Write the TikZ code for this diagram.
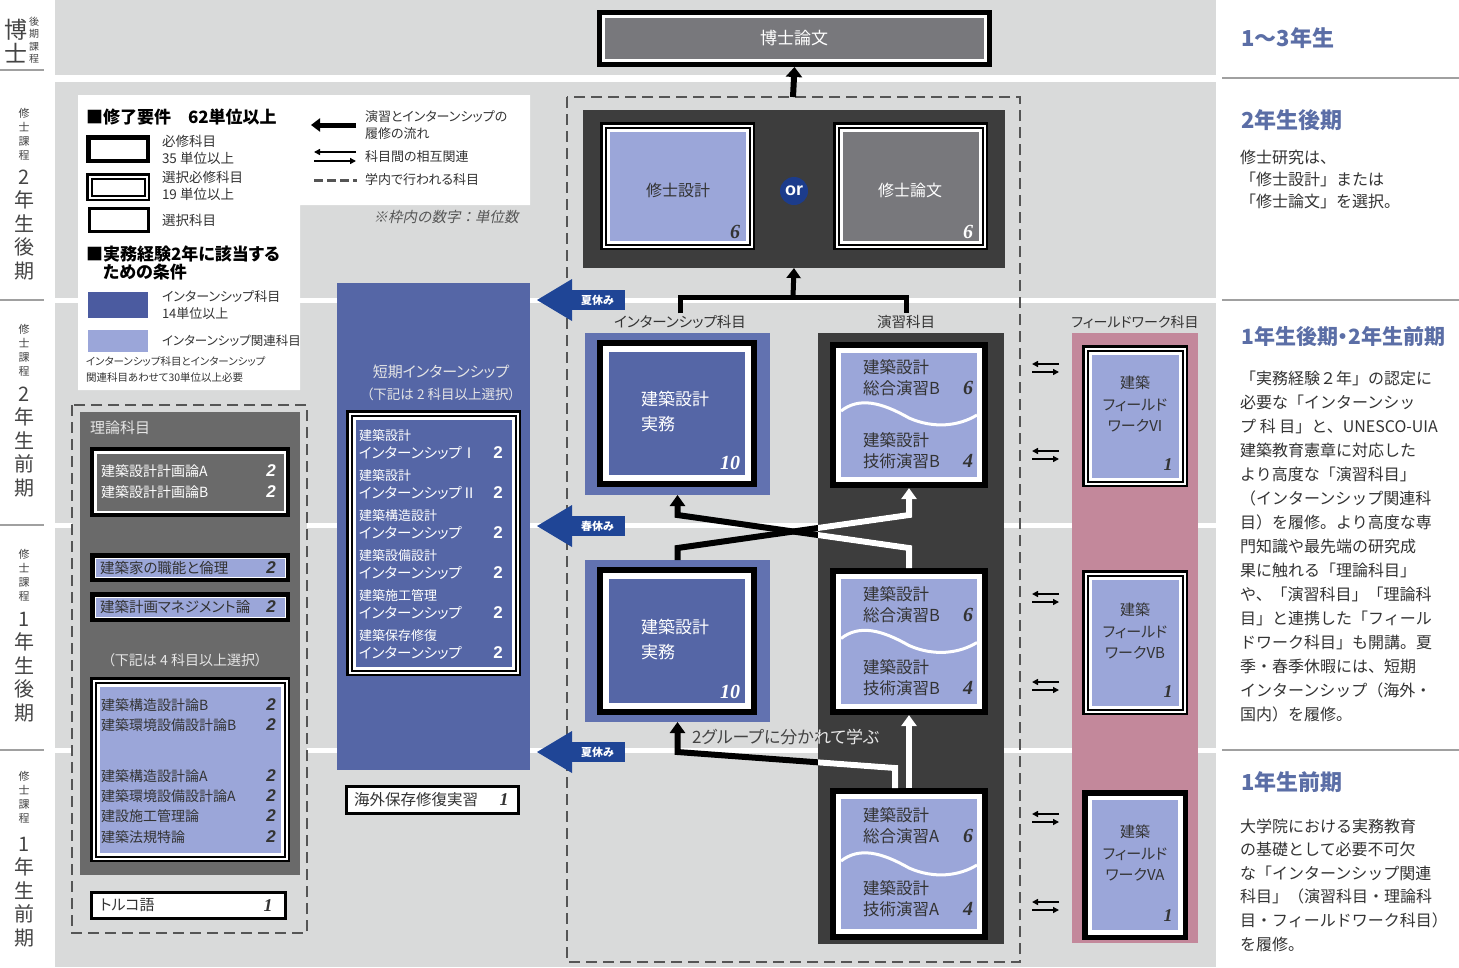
\documentclass[tikz,border=0pt]{standalone}
\usepackage{fontspec}
\usepackage{graphicx}
\setmainfont{Noto Sans CJK JP}[RawFeature={+palt}]
\newfontfamily\jpfull{Noto Sans CJK JP}
\newfontfamily\jpslant{Noto Sans CJK JP}[FakeSlant=0.2]
\newfontfamily\numserif{Liberation Serif}
\newfontfamily\numsans{Liberation Sans}
\usetikzlibrary{arrows.meta}

\newcommand\fsz[2]{\fontsize{#1}{#2}\selectfont}
\newcommand\ppin[2]{\fill[#2] ([shift={(#1,#1)}]path picture bounding box.south west) rectangle ([shift={(-#1,-#1)}]path picture bounding box.north east);}

\definecolor{bg}{HTML}{D9DADA}
\definecolor{dark}{HTML}{3D3D3D}
\definecolor{midgray}{HTML}{6A6A6A}
\definecolor{boxgray}{HTML}{78787C}
\definecolor{iblue}{HTML}{5566A6}
\definecolor{iblue2}{HTML}{6272B0}
\definecolor{legblue}{HTML}{4B5BA0}
\definecolor{lav}{HTML}{9BA6D9}
\definecolor{pink}{HTML}{C3889B}
\definecolor{orblue}{HTML}{1C3C8C}
\definecolor{tagblue}{HTML}{1F4596}
\definecolor{headblue}{HTML}{5B6EA6}
\definecolor{txt}{HTML}{333333}
\definecolor{dashc}{HTML}{555555}
\definecolor{lgray}{HTML}{E6E6E6}
\definecolor{sepc}{HTML}{A0A0A0}
\definecolor{lefttxt}{HTML}{444444}

\tikzset{
  reqbox/.style n args={3}{rectangle, inner sep=0pt, outer sep=0pt, fill=black,
    path picture={\ppin{0pt}{black}\ppin{#2}{white}\ppin{#3}{#1}}},
  dblbox/.style={rectangle, inner sep=0pt, outer sep=0pt, fill=black,
    path picture={\ppin{0pt}{black}\ppin{2.5pt}{white}\ppin{4.5pt}{black}\ppin{6.5pt}{white}\ppin{9.5pt}{#1}}},
  elebox/.style={rectangle, inner sep=0pt, outer sep=0pt, fill=black,
    path picture={\ppin{0pt}{black}\ppin{3pt}{white}}},
  panel/.style={rectangle, inner sep=0pt, outer sep=0pt, fill=#1},
  lbl/.style={inner sep=0pt, outer sep=0pt, text=txt},
  num/.style={inner sep=0pt, outer sep=0pt, font=\numserif\bfseries\itshape\fsz{20}{20}},
  nums/.style={inner sep=0pt, outer sep=0pt, font=\numsans\bfseries\itshape\fsz{17}{17}},
  flow/.style={line width=5pt, line join=miter, -{Triangle[length=10pt,width=14pt]}},
  xflow/.style={line width=6pt, line join=miter, -{Triangle[length=11pt,width=15pt]}},
  flowline/.style={line width=5pt},
  dashbox/.style={draw=dashc, line width=2.5pt, dash pattern=on 11pt off 6pt},
  dblarr/.style={line width=1.8pt, -{Triangle[length=6pt,width=6pt]}},
  tag/.style={fill=tagblue, text=white, inner sep=0pt, minimum width=55pt, minimum height=20pt, font=\bfseries\fsz{11}{11}},
  vsmall/.style={inner sep=0pt, align=center, text=lefttxt, font=\fsz{11}{14}},
  vbig/.style={inner sep=0pt, align=center, text=lefttxt, font=\fsz{20}{23.5}},
  rhead/.style={inner sep=0pt, anchor=west, text=headblue, font=\jpfull\bfseries\fsz{22}{22}},
  rbody/.style={inner sep=0pt, anchor=west, text=txt, font=\jpfull\fsz{16}{16}},
}

\begin{document}
\begin{tikzpicture}[x=1pt,y=-1pt]
\useasboundingbox (0,0) rectangle (1459,967);
\fill[white] (0,0) rectangle (1459,967);
\fill[bg] (55,0) rectangle (1216,967);
\foreach \a/\b in {75/82, 297.5/302.5, 522.5/527.5, 747.5/752.5}
  \fill[white] (55,\a) rectangle (1216,\b);

% ---------- left column ----------
\foreach \y in {70,300,525,750} \draw[sepc, line width=1.5pt] (0,\y) -- (44,\y);
\node[inner sep=0pt, align=center, text=lefttxt, font=\fsz{23}{24}] (l1a) at (16,41) {博\\士};
\node[inner sep=0pt, align=center, text=lefttxt, font=\fsz{10}{12.5}] (l1b) at (34,40) {後\\期\\課\\程};
\node[vsmall] (l2a) at (24,134) {修\\士\\課\\程};
\node[vbig] (l2b) at (24,225) {2\\年\\生\\後\\期};
\node[vsmall] (l3a) at (24,350) {修\\士\\課\\程};
\node[vbig] (l3b) at (24,442) {2\\年\\生\\前\\期};
\node[vsmall] (l4a) at (24,575) {修\\士\\課\\程};
\node[vbig] (l4b) at (24,667) {1\\年\\生\\後\\期};
\node[vsmall] (l5a) at (24,797) {修\\士\\課\\程};
\node[vbig] (l5b) at (24,892) {1\\年\\生\\前\\期};

% ---------- right column ----------
\foreach \y in {78,300,750} \draw[sepc, line width=1.5pt] (1222,\y) -- (1459,\y);
\node[rhead] (rh1) at (1241,38) {1～3年生};
\node[rhead] (rh2) at (1241,120) {2年生後期};
\node[rbody] (rt1) at (1240,157) {修士研究は、};
\node[rbody] (rt2) at (1240,179) {「修士設計」または};
\node[rbody] (rt3) at (1240,201) {「修士論文」を選択。};
\node[rhead, font=\bfseries\fsz{21}{21}] (rh3) at (1241,337) {1年生後期・2年生前期};
\foreach \t [count=\i from 0] in {{「実務経験２年」の認定に},{必要な「インターンシッ},{プ 科 目」と、UNESCO-UIA},{建築教育憲章に対応した},{より高度な「演習科目」},{（インターンシップ関連科},{目）を履修。より高度な専},{門知識や最先端の研究成},{果に触れる「理論科目」},{や、「演習科目」「理論科},{目」と連携した「フィール},{ドワーク科目」も開講。夏},{季・春季休暇には、短期},{インターンシップ（海外・},{国内）を履修。}}
  \node[rbody] (rm\i) at (1240,{378+24.05*\i}) {\t};
\node[rhead] (rh4) at (1241,782) {1年生前期};
\foreach \t [count=\i from 0] in {{大学院における実務教育},{の基礎として必要不可欠},{な「インターンシップ関連},{科目」（演習科目・理論科},{目・フィールドワーク科目）},{を履修。}}
  \node[rbody] (rb\i) at (1240,{826+23.6*\i}) {\t};

% ---------- legend ----------
\fill[white] (78,95) -- (530,95) -- (530,205) -- (300,205) -- (300,390) -- (78,390) -- cycle;
\node[lbl, anchor=west, text=black, font=\bfseries\fsz{17}{17}] (lgh1) at (86,117) {■修了要件　62単位以上};
\node[reqbox={white}{4.5pt}{4.5pt}, minimum width=64pt, minimum height=28pt] (lg1) at (118,149) {};
\node[lbl, anchor=west, font=\fsz{13.5}{16.5}, align=left] (lg1t) at (162,150) {必修科目\\35 単位以上};
\node[dblbox=white, minimum width=64pt, minimum height=28pt] (lg2) at (118,187) {};
\node[lbl, anchor=west, font=\fsz{13.5}{16.5}, align=left] (lg2t) at (162,186) {選択必修科目\\19 単位以上};
\node[elebox, minimum width=62pt, minimum height=26pt] (lg3) at (119,220) {};
\node[lbl, anchor=west, font=\fsz{13.5}{13.5}] (lg3t) at (162,220) {選択科目};
\node[lbl, anchor=west, text=black, font=\bfseries\fsz{17}{18}, align=left] (lgh2) at (86,263) {■実務経験2年に該当する\\\hspace*{17pt}ための条件};
\node[panel=legblue, minimum width=60pt, minimum height=26pt] (lg4) at (118,305) {};
\node[lbl, anchor=west, font=\fsz{13}{16.5}, align=left] (lg4t) at (162,305) {インターンシップ科目\\14単位以上};
\node[panel=lav, minimum width=60pt, minimum height=22pt] (lg5) at (118,341) {};
\node[lbl, anchor=west, font=\fsz{12.5}{12.5}] (lg5t) at (162,341) {インターンシップ関連科目};
\node[lbl, anchor=west, font=\fsz{10.5}{16}, align=left] (lg6t) at (86,370) {インターンシップ科目とインターンシップ\\関連科目あわせて30単位以上必要};
% legend, right part
\coordinate (la1) at (356,125); \coordinate (la2) at (311,125);
\draw[line width=5pt, -{Triangle[length=9pt,width=13pt]}] (la1) -- (la2);
\coordinate (lb1) at (356,152); \coordinate (lb2) at (314,152);
\coordinate (lb3) at (314,161); \coordinate (lb4) at (356,161);
\draw[dblarr] (lb1) -- (lb2);
\draw[dblarr] (lb3) -- (lb4);
\coordinate (lc1) at (314,180); \coordinate (lc2) at (357,180);
\draw[line width=3pt, dash pattern=on 9pt off 4pt, dashc] (lc1) -- (lc2);
\node[lbl, anchor=west, font=\fsz{13}{16.5}, align=left] (lat) at (365,125) {演習とインターンシップの\\履修の流れ};
\node[lbl, anchor=west, font=\fsz{13}{13}] (lbt) at (365,157) {科目間の相互関連};
\node[lbl, anchor=west, font=\fsz{13}{13}] (lct) at (365,180) {学内で行われる科目};
\node[lbl, text=dashc, font=\jpslant\fsz{14.5}{14.5}] (unit) at (446,217) {※枠内の数字：単位数};

% ---------- theory column ----------
\fill[bg] (72,405) rectangle (307,933);
\node[panel=midgray, minimum width=220pt, minimum height=463pt] (thp) at (190,643.5) {};
\draw[dashbox] (72,405) rectangle (307,933);
\node[lbl, anchor=west, text=lgray, font=\fsz{15}{15}] (tht) at (90,428) {理論科目};
\node[reqbox={midgray}{4pt}{6.5pt}, minimum width=200pt, minimum height=70pt] (th1) at (190,482) {};
\node[lbl, anchor=west, text=white, font=\fsz{14}{14}] (th1a) at (101,471) {建築設計計画論A};
\node[lbl, anchor=west, text=white, font=\fsz{14}{14}] (th1b) at (101,492) {建築設計計画論B};
\node[nums, text=white] (th1an) at (271,471) {2};
\node[nums, text=white] (th1bn) at (271,492) {2};
\node[reqbox={lav}{4.5pt}{5.5pt}, minimum width=200pt, minimum height=29pt] (th2) at (190,567.5) {};
\node[lbl, anchor=west, font=\fsz{14.5}{14.5}] (th2t) at (100,567.5) {建築家の職能と倫理};
\node[nums, text=txt] (th2n) at (271,567.5) {2};
\node[reqbox={lav}{4.5pt}{5.5pt}, minimum width=200pt, minimum height=30pt] (th3) at (190,607) {};
\node[lbl, anchor=west, font=\fsz{14.5}{14.5}] (th3t) at (100,607) {建築計画マネジメント論};
\node[nums, text=txt] (th3n) at (271,607) {2};
\node[lbl, text=lgray, font=\fsz{14}{14}] (th4h) at (185,660) {（下記は 4 科目以上選択）};
\node[dblbox=lav, minimum width=200pt, minimum height=185pt] (th4) at (190,769.5) {};
\foreach \t/\y [count=\i] in {建築構造設計論B/705, 建築環境設備設計論B/725, 建築構造設計論A/776, 建築環境設備設計論A/796, 建設施工管理論/816, 建築法規特論/837}{
  \node[lbl, anchor=west, font=\fsz{14}{14}] (th4t\i) at (101,\y) {\t};
  \node[nums, text=txt] (th4n\i) at (271,\y) {2};
}
\node[elebox, minimum width=197pt, minimum height=29pt] (tr) at (188.5,905.5) {};
\node[lbl, anchor=west, font=\fsz{15}{15}] (trt) at (100,905.5) {トルコ語};
\node[num, text=txt, font=\numserif\bfseries\itshape\fsz{18}{18}] (trn) at (268,905.5) {1};

% ---------- short internship ----------
\node[panel=iblue, minimum width=193pt, minimum height=487pt] (sip) at (433.5,526.5) {};
\node[lbl, text=lgray, font=\fsz{15}{15}] (sih1) at (441,372) {短期インターンシップ};
\node[lbl, text=lgray, font=\fsz{13.5}{13.5}] (sih2) at (441,394) {（下記は 2 科目以上選択）};
\node[dblbox=iblue, minimum width=175pt, minimum height=266pt] (sil) at (433.5,543) {};
\foreach \a/\b [count=\i from 0] in {建築設計/インターンシップⅠ, 建築設計/インターンシップⅡ, 建築構造設計/インターンシップ, 建築設備設計/インターンシップ, 建築施工管理/インターンシップ, 建築保存修復/インターンシップ}{
  \node[lbl, anchor=west, text=white, font=\fsz{13}{13}] (sia\i) at (359,{436+40*\i}) {\a};
  \node[lbl, anchor=west, text=white, font=\fsz{14.5}{14.5}] (sib\i) at (359,{453+40*\i}) {\b};
  \node[nums, text=white, font=\numsans\bfseries\fsz{17}{17}] (sin\i) at (498,{453+40*\i}) {2};
}
\node[elebox, minimum width=175pt, minimum height=30pt] (ov) at (432.5,800) {};
\node[lbl, anchor=west, font=\fsz{15.5}{15.5}] (ovt) at (354,800) {海外保存修復実習};
\node[num, text=txt, font=\numserif\bfseries\itshape\fsz{18}{18}] (ovn) at (504,800) {1};

% ---------- main dashed area ----------
\draw[dashbox] (567,97) rectangle (1020,962);
\coordinate (dtop) at (793,97);

% doctor thesis
\node[reqbox={boxgray}{5pt}{8pt}, minimum width=395pt, minimum height=57pt] (doct) at (794.5,38.5) {};
\node[lbl, text=white, font=\fsz{17}{17}] (doctt) at (794,38) {博士論文};
\draw[flow, line width=6pt, -{Triangle[length=10pt,width=16pt]}] (dtop) -- (doct.south);

% master panel
\node[panel=dark, minimum width=422pt, minimum height=158pt] (mpanel) at (794,189) {};
\node[dblbox=lav, minimum width=155pt, minimum height=128pt] (ms1) at (677.5,186) {};
\node[lbl, text=txt, font=\fsz{16}{16}] (ms1t) at (678,190) {修士設計};
\node[num, text=txt] (ms1n) at (735,232) {6};
\node[dblbox=boxgray, minimum width=155pt, minimum height=128pt] (ms2) at (910.5,186) {};
\node[lbl, text=white, font=\fsz{16}{16}] (ms2t) at (910,190) {修士論文};
\node[num, text=white] (ms2n) at (968,232) {6};
\node[circle, fill=orblue, minimum size=28pt, inner sep=0pt, text=white, font=\numsans\bfseries\fsz{18}{18}] (or) at (794,191) {or};

% bracket
\node[lbl, font=\fsz{14.5}{14.5}] (lblIn) at (680,322) {インターンシップ科目};
\node[lbl, font=\fsz{14.5}{14.5}] (lblEx) at (906,322) {演習科目};
\coordinate (brM) at (793,297);
\draw[flowline] ([yshift=2pt]lblIn.north) |- (brM) -| ([yshift=2pt]lblEx.north);
\draw[flow] (brM) -- (mpanel.south);

% exercise column
\node[panel=dark, minimum width=186pt, minimum height=611pt] (excol) at (911,638.5) {};
% internship boxes
\node[panel=iblue2, minimum width=185pt, minimum height=162pt] (in1p) at (677.5,414) {};
\node[reqbox={iblue}{6pt}{12pt}, minimum width=160pt, minimum height=147pt] (in1f) at (677,413.5) {};
\node[lbl, anchor=west, text=white, font=\fsz{17}{25}, align=left] (in1t) at (641,412) {建築設計\\実務};
\node[num, text=white] (in1n) at (730,463) {10};
\node[panel=iblue2, minimum width=185pt, minimum height=162pt] (in2p) at (677.5,641) {};
\node[reqbox={iblue}{6pt}{12pt}, minimum width=160pt, minimum height=148pt] (in2f) at (677,641) {};
\node[lbl, anchor=west, text=white, font=\fsz{17}{25}, align=left] (in2t) at (641,640) {建築設計\\実務};
\node[num, text=white] (in2n) at (730,692) {10};

% exercise boxes
\node[reqbox={lav}{6pt}{11pt}, minimum width=158pt, minimum height=146pt] (exB1) at (909,415) {};
\node[reqbox={lav}{6pt}{11pt}, minimum width=158pt, minimum height=147pt] (exB2) at (909,641.5) {};
\node[reqbox={lav}{6pt}{11pt}, minimum width=158pt, minimum height=152pt] (exA) at (909,864) {};
\foreach \n/\dy in {exB1/-3, exB2/-2, exA/-2}{
  \begin{scope}[shift={(\n.center)}]
    \draw[white, line width=3pt] (-68,{\dy-1}) .. controls (-50,{\dy-15}) and (-28,{\dy-10}) .. (0,{\dy+6}) .. controls (25,{\dy+17}) and (50,{\dy+14}) .. (68,{\dy+3});
  \end{scope}
}
\foreach \n/\y/\a/\b [count=\i] in {exB1/367/B/B, exB2/594/B/B, exA/815/A/A}{
  \node[lbl, anchor=west, font=\fsz{16.5}{21}, align=left] (ext\i a) at (863,{\y+10.5}) {建築設計\\総合演習\a};
  \node[num, text=txt] (exn\i a) at (968,{\y+21}) {6};
  \node[lbl, anchor=west, font=\fsz{16.5}{21}, align=left] (ext\i b) at (863,{\y+83.5}) {建築設計\\技術演習\b};
  \node[num, text=txt] (exn\i b) at (968,{\y+94}) {4};
}

% crossing flows (black on grey, white on dark)
\foreach \lc/\tc/\k in {black/lefttxt/0, white/lgray/1}{
  \begin{scope}
    \ifnum\k=1 \clip (818,333) rectangle (1004,944); \fi
    \draw[xflow, draw=\lc] (exB2.north) -- ++(0,-20) -- ([yshift=-20pt]in1p.south) -- (in1p.south);
    \draw[xflow, draw=\lc] (in2p.north) -- ++(0,-12) -- ([yshift=-27pt]exB1.south) -- (exB1.south);
    \draw[xflow, draw=\lc] ([xshift=-14pt]exA.north) -- ++(0,-20) -- ([yshift=-30pt]in2p.south) -- (in2p.south);
    \draw[xflow, draw=\lc] (exA.north) -- (exB2.south);
    \node[lbl, anchor=west, text=\tc, font=\fsz{17}{17}] (grp\k) at (692,737) {2グループに分かれて学ぶ};
  \end{scope}
}

% holiday tags
\foreach \y/\t [count=\i] in {300/夏休み, 526/春休み, 752/夏休み}{
  \fill[tagblue] (537,\y) -- (572,{\y-21}) -- (572,{\y+21}) -- cycle;
  \node[tag] (tag\i) at (597.5,\y) {\t};
}

% ---------- fieldwork ----------
\node[lbl, font=\fsz{14}{14}] (fwl) at (1135,322) {フィールドワーク科目};
\node[panel=pink, minimum width=126pt, minimum height=610pt] (fwp) at (1135,638) {};
\node[dblbox=lav, minimum width=106pt, minimum height=142pt] (fw1) at (1135,416) {};
\node[lbl, align=center, font=\fsz{15}{21.5}] (fw1t) at (1135,404) {建築\\フィールド\\ワークVI};
\node[num, text=txt, font=\numserif\bfseries\itshape\fsz{18}{18}] (fw1n) at (1168,465) {1};
\node[dblbox=lav, minimum width=106pt, minimum height=145pt] (fw2) at (1135,642.5) {};
\node[lbl, align=center, font=\fsz{15}{21.5}] (fw2t) at (1135,631) {建築\\フィールド\\ワークVB};
\node[num, text=txt, font=\numserif\bfseries\itshape\fsz{18}{18}] (fw2n) at (1168,692) {1};
\node[reqbox={lav}{5.5pt}{10pt}, minimum width=106pt, minimum height=150pt] (fw3) at (1135,865) {};
\node[lbl, align=center, font=\fsz{15}{21.5}] (fw3t) at (1135,853) {建築\\フィールド\\ワークVA};
\node[num, text=txt, font=\numserif\bfseries\itshape\fsz{18}{18}] (fw3n) at (1168,916) {1};
\foreach \y [count=\i] in {368,455,598,686,818,906}{
  \coordinate (fa\i) at (1059,{\y-4}); \coordinate (fb\i) at (1032,{\y-4});
  \coordinate (fc\i) at (1032,{\y+4}); \coordinate (fd\i) at (1059,{\y+4});
  \draw[dblarr] (fa\i) -- (fb\i);
  \draw[dblarr] (fc\i) -- (fd\i);
}
\end{tikzpicture}
\end{document}
